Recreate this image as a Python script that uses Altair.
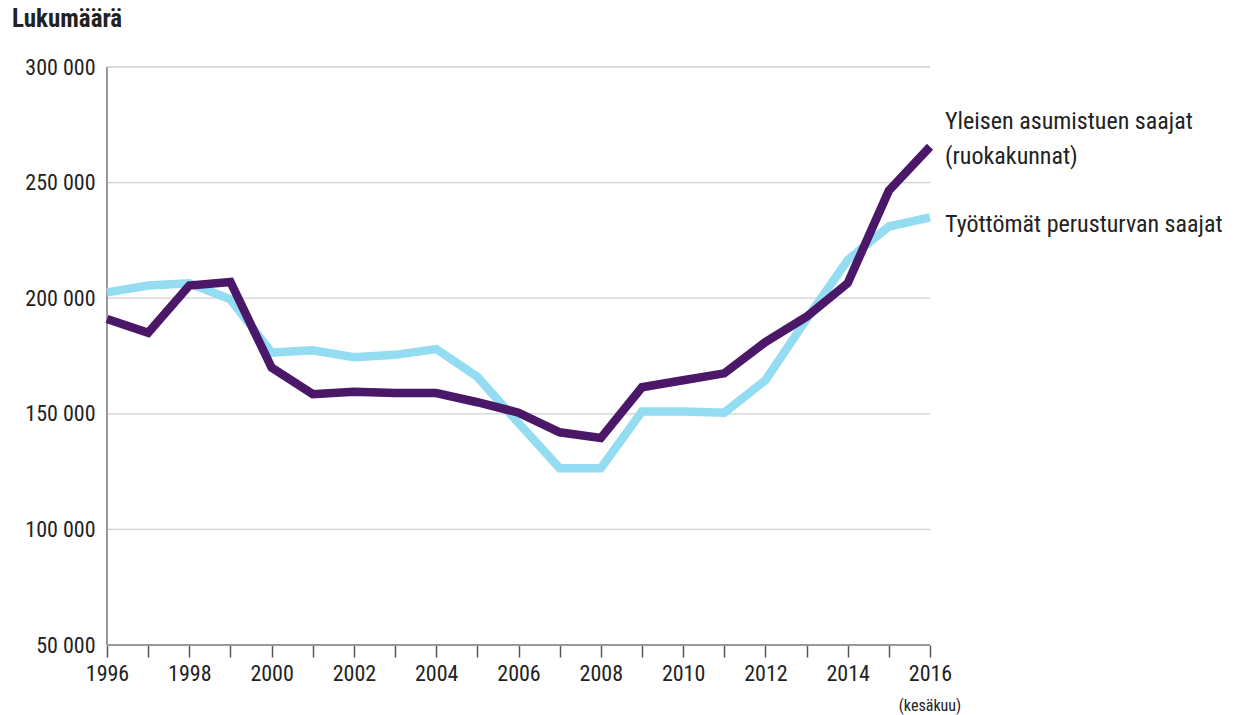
import altair as alt
import pandas as pd

years = list(range(1996, 2017))
y_ticks = [50000, 100000, 150000, 200000, 250000, 300000]

# Yleisen asumistuen saajat (ruokakunnat)
asumistuki = [191000, 185000, 205500, 207000, 170000, 158500, 159500, 159000, 159000,
              155000, 150500, 142000, 139500, 161500, 164500, 167500, 181000, 192000,
              206500, 246500, 265500]
# Työttömät perusturvan saajat
perusturva = [202500, 205500, 206500, 199500, 176500, 177500, 174500, 175500, 178000,
              166000, 146000, 126500, 126500, 151000, 151000, 150500, 164500, 191000,
              216500, 231000, 235000]

series_names = ["Yleisen asumistuen saajat (ruokakunnat)", "Työttömät perusturvan saajat"]
colors = ["#4a1769", "#93dcf2"]

rows = []
for y, a, p in zip(years, asumistuki, perusturva):
    rows.append({"vuosi": y, "sarja": series_names[1], "arvo": p, "jarj": 0})
    rows.append({"vuosi": y, "sarja": series_names[0], "arvo": a, "jarj": 1})
df = pd.DataFrame(rows)

FONT = "Roboto Condensed, DejaVu Sans Condensed, Roboto, sans-serif"

x_scale = alt.Scale(domain=[1996, 2016], nice=False, zero=False)
y_scale = alt.Scale(domain=[50000, 300000], nice=False, zero=False)

# Axes carry only labels and ticks; grid and axis lines are drawn as rules below
x_axis = alt.Axis(values=years, format="d", title=None,
                  labelExpr="datum.value % 2 == 0 ? datum.label : ''",
                  labelFlush=False, grid=False, domain=False,
                  tickColor="#555555", tickSize=12, tickWidth=1.5,
                  labelFont=FONT, labelFontSize=22, labelColor="#222222",
                  labelPadding=6)
y_axis = alt.Axis(values=y_ticks,
                  labelExpr="replace(format(datum.value, ','), ',', ' ')",
                  labelFlush=False, title=None, ticks=False, grid=False, domain=False,
                  labelFont=FONT, labelFontSize=22, labelColor="#222222",
                  labelPadding=12)

gridlines = alt.Chart(pd.DataFrame({"arvo": y_ticks[1:]})).mark_rule(
    color="#cfcfcf", strokeWidth=1.3
).encode(y=alt.Y("arvo:Q", scale=y_scale, axis=y_axis))

y_domain = alt.Chart(pd.DataFrame({"vuosi": [1996]})).mark_rule(
    color="#9a9a9a", strokeWidth=2
).encode(x=alt.X("vuosi:Q", scale=x_scale, axis=x_axis))

x_domain = alt.Chart(pd.DataFrame({"arvo": [50000]})).mark_rule(
    color="#9a9a9a", strokeWidth=2
).encode(y=alt.Y("arvo:Q", scale=y_scale, axis=y_axis))

lines = alt.Chart(df).mark_line(strokeWidth=8.5, strokeJoin="miter", strokeCap="butt").encode(
    x=alt.X("vuosi:Q", scale=x_scale, axis=x_axis),
    y=alt.Y("arvo:Q", scale=y_scale, axis=y_axis),
    color=alt.Color("sarja:N", scale=alt.Scale(domain=series_names, range=colors), legend=None),
    order=alt.Order("jarj:Q"),
    detail="sarja:N",
)


def end_label(value, text, dy):
    # Series name placed just right of the line's last point
    return alt.Chart(pd.DataFrame({"vuosi": [2016], "arvo": [value], "teksti": [text]})).mark_text(
        align="left", baseline="middle", dx=15, dy=dy, font=FONT, fontSize=24,
        color="#222222", lineHeight=35
    ).encode(
        x=alt.X("vuosi:Q", scale=x_scale, axis=x_axis),
        y=alt.Y("arvo:Q", scale=y_scale, axis=y_axis),
        text="teksti",
    )


label_a = end_label(asumistuki[-1], ["Yleisen asumistuen saajat", "(ruokakunnat)"], -25)
label_p = end_label(perusturva[-1], "Työttömät perusturvan saajat", 8)

# Note under the last year
note = alt.Chart(pd.DataFrame({"vuosi": [2016], "teksti": ["(kesäkuu)"]})).mark_text(
    align="center", baseline="middle", font=FONT, fontSize=16, color="#222222"
).encode(
    x=alt.X("vuosi:Q", scale=x_scale, axis=x_axis),
    y=alt.value(639),
    text="teksti",
)

title = alt.Chart(pd.DataFrame({"t": ["Lukumäärä"]})).mark_text(
    align="left", baseline="middle", font=FONT, fontSize=25, fontWeight="bold",
    color="#222222"
).encode(x=alt.value(-95), y=alt.value(-48), text="t")

chart = alt.layer(gridlines, y_domain, x_domain, lines, label_a, label_p, note, title).properties(
    width=823, height=578,
    background="white",
    autosize=alt.AutoSizeParams(type="none"),
    padding={"left": 107, "top": 67, "right": 327, "bottom": 70},
).configure_view(stroke="transparent", strokeOpacity=0).configure_axis(grid=False, domain=False)

chart.save("out.html", embed_options={"renderer": "svg", "actions": False})
